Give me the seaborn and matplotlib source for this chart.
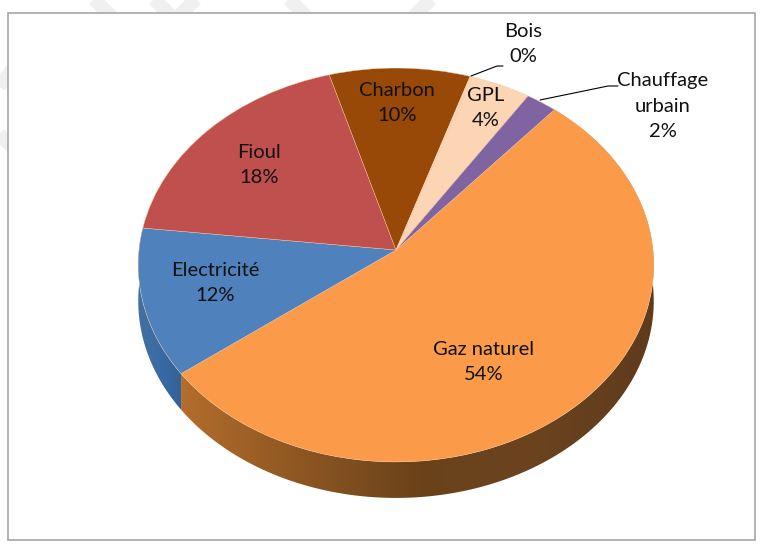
import numpy as np
import matplotlib
matplotlib.use("Agg")
import matplotlib.pyplot as plt
from matplotlib.colors import LinearSegmentedColormap
from matplotlib.patches import Polygon, Rectangle
from matplotlib.transforms import Transform
import seaborn as sns

sources = ["Gaz naturel", "Electricité", "Fioul", "Charbon", "Bois", "GPL", "Chauffage urbain"]
# the labels show them rounded
shares = [53.4, 12.1, 18.7, 9.5, 0.2, 4.0, 2.1]
slice_colors = ["#FB9A48", "#4F81BD", "#C0504D", "#984807", "#FCD5B5", "#FCD5B5", "#8064A2"]

CX, CY = 396, 250
RX, RY, TILT = 257, 195.8, 0.0761
DEPTH = 36


class Tilt(Transform):
    """Unit pie -> pixels, far side a bit smaller, like the office 3D pie."""
    input_dims = 2
    output_dims = 2

    def transform_non_affine(self, values):
        values = np.asarray(values, dtype=float)
        w = 1 + TILT * values[:, 1]
        return np.column_stack([CX + RX * values[:, 0] / w, CY - RY * values[:, 1] / w])


def side_polygon(wedge, tilt):
    # outer arc of the wedge plus the same arc pushed down by the depth
    a = np.radians(np.linspace(wedge.theta1, wedge.theta2, 200))
    pts = tilt.transform(np.column_stack([np.cos(a), np.sin(a)]))
    low = pts + [0, DEPTH]
    return np.vstack([pts, low[::-1]])


sns.set_theme(style="white")
plt.rcParams["font.family"] = ["Lato", "DejaVu Sans"]

fig = plt.figure(figsize=(7.71, 5.44), dpi=100)
ax = fig.add_axes([0, 0, 1, 1])

wedges, _ = ax.pie(shares, colors=sns.color_palette(slice_colors), startangle=49.3,
                   counterclock=False, radius=1, frame=True,
                   wedgeprops={"linewidth": 0.3, "edgecolor": "#F3C9A0", "zorder": 5})
ax.set_aspect("auto")
ax.axis("off")

tilt = Tilt()
for w in wedges:
    w.set_transform(tilt + ax.transData)

# watermark bands in the margin, then the white chart box over them
for xs, ys in [([75, 125], [-20, 30]), ([135, 185], [-20, 30]), ([210, 160], [-15, 35]),
               ([20, -20], [60, 110]), ([-20, 25], [115, 160]), ([280, 320], [-10, 30]),
               ([440, 400], [-10, 30])]:
    ax.plot(xs, ys, color="#F0F0F0", lw=10, solid_capstyle="butt", zorder=1)
ax.add_patch(Rectangle((8, 13), 747, 527, fc="white", ec="#A6A6A6", lw=1.2, zorder=2))

# side of the disc, only the orange and blue ones are visible
orange_side = LinearSegmentedColormap.from_list("o", ["#B56E2C", "#8E5722", "#6B421A", "#6A431F", "#5F3B1C"])
blue_side = LinearSegmentedColormap.from_list("b", ["#44739F", "#3A6BA5", "#2F5D92"])
for i, cmap, x0, x1 in [(1, blue_side, 130, 190), (0, orange_side, 176, 660)]:
    poly = Polygon(side_polygon(wedges[i], tilt), closed=True, transform=ax.transData, fc="none", ec="none")
    ax.add_patch(poly)
    im = ax.imshow(np.linspace(0, 1, 256)[None, :], cmap=cmap, extent=(x0, x1, 544, 0),
                   aspect="auto", zorder=3)
    im.set_clip_path(poly)
ax.set_xlim(0, 771)
ax.set_ylim(544, 0)

labels = [("Bois\n0%", 523, 44), ("Chauffage\nurbain\n2%", 663, 106), ("GPL\n4%", 486, 108),
          ("Charbon\n10%", 397, 103), ("Fioul\n18%", 259, 165), ("Electricité\n12%", 215, 283),
          ("Gaz naturel\n54%", 484, 362)]
for text, x, y in labels:
    ax.text(x, y, text, ha="center", va="center", fontsize=14.5, color="#111111", linespacing=1.62, zorder=8)

ax.plot([471, 497, 503], [76, 66, 66], color="black", lw=0.8, zorder=7)
ax.plot([540, 608, 618], [100, 86, 86], color="black", lw=0.8, zorder=7)

fig.savefig("out.png", dpi=100)
